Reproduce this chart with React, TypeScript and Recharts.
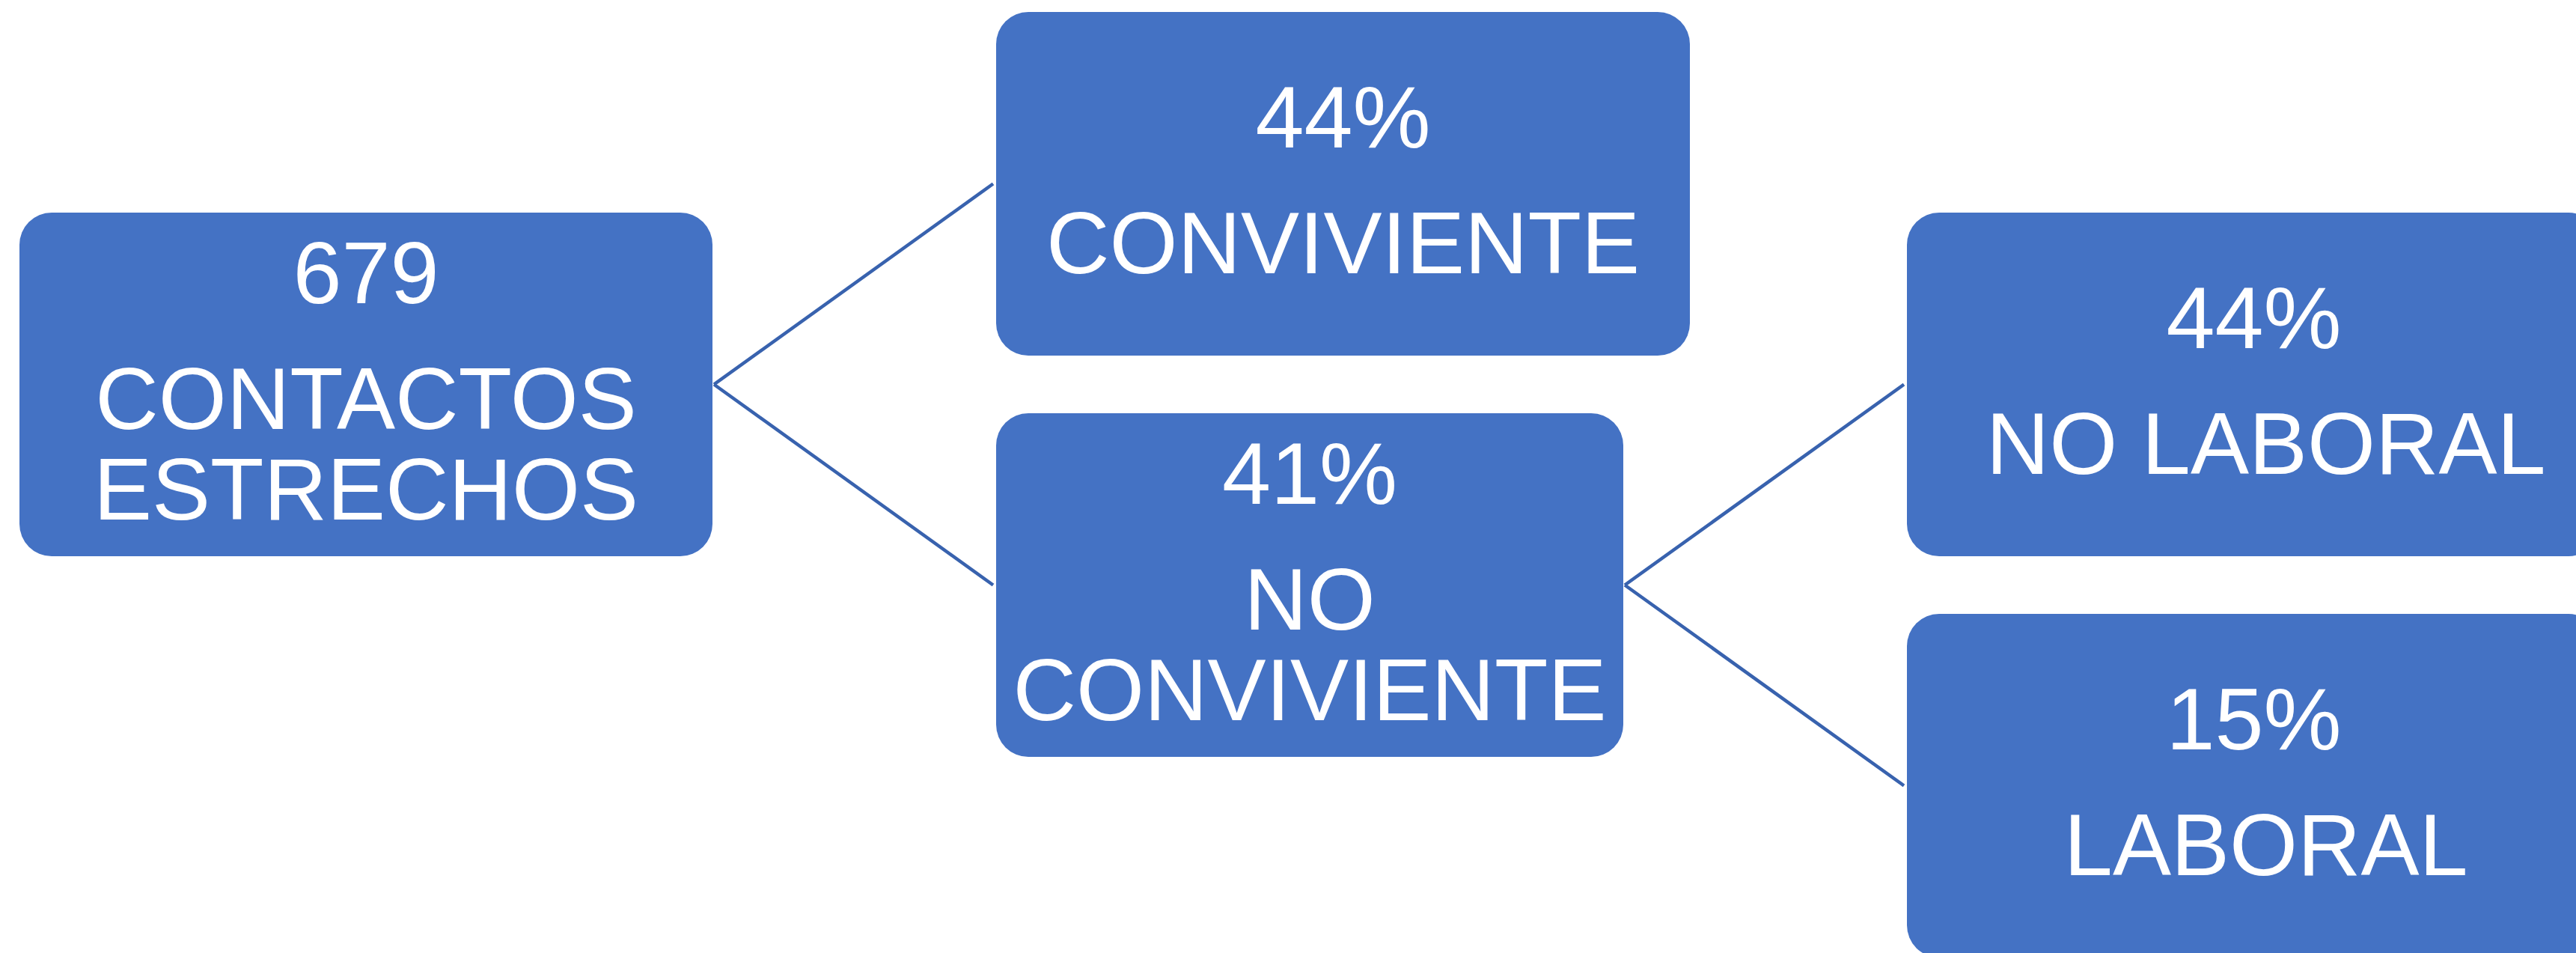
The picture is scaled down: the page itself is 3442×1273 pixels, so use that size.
import React from "react";
import { ScatterChart, Scatter, XAxis, YAxis, ReferenceLine } from "recharts";

// ---- data ----
const nodeValues = ["679", "44%", "41%", "44%", "15%"];
const nodeNameLines = [
  ["CONTACTOS", "ESTRECHOS"],
  ["CONVIVIENTE"],
  ["NO", "CONVIVIENTE"],
  [" NO LABORAL"],
  [" LABORAL"],
];
const nodeParents = [-1, 0, 0, 2, 2];
const nodeRows = [1, 0, 2, 1, 3];

// ---- style / layout ----
const W = 3442;
const H = 1273;
const BOX_FILL = "#4472C4";
const LINE_COLOR = "#3862AE";
const boxWidths = [926, 927, 838, 927, 927];
const BOX_H = 459;
const FIRST_LEFT = 26;
const COL_GAP = 379;
const FONT_SIZE = 117;
const CAP_H = 84;
const VALUE_GAP = 168;
const LINE_H = 121;
const ROW0_PX = 245.5;
const ROW_STEP = 268;

// build layout table from the tree structure
const lefts: number[] = [];
nodeParents.forEach((p, i) => {
  lefts[i] = p < 0 ? FIRST_LEFT : lefts[p] + boxWidths[p] + COL_GAP;
});
const nodes = nodeValues.map((v, i) => ({
  x: lefts[i] + boxWidths[i] / 2,
  y: nodeRows[i],
  value: v,
  lines: nodeNameLines[i],
  w: boxWidths[i],
}));
const links = nodeParents
  .map((p, i) => ({ p, i }))
  .filter((d) => d.p >= 0)
  .map(({ p, i }) => ({
    x1: lefts[p] + boxWidths[p] + 2,
    y1: nodeRows[p],
    x2: lefts[i] - 4,
    y2: nodeRows[i],
  }));

const yMin = -ROW0_PX / ROW_STEP;
const yMax = (H - ROW0_PX) / ROW_STEP;

const NodeShape = (props: any) => {
  const { cx, cy, payload } = props;
  const w = payload.w;
  const nLines = payload.lines.length;
  const span = CAP_H + VALUE_GAP + LINE_H * (nLines - 1);
  const first = cy - 6.5 - span / 2 + CAP_H;
  const textProps = {
    x: cx,
    textAnchor: "middle" as const,
    fill: "#FFFFFF",
    fontFamily: "Arial, 'Liberation Sans', sans-serif",
    fontSize: FONT_SIZE,
    xmlSpace: "preserve",
    style: { whiteSpace: "pre" as const },
  };
  return (
    <g>
      <rect
        x={cx - w / 2}
        y={cy - BOX_H / 2}
        width={w}
        height={BOX_H}
        rx={43}
        ry={43}
        fill={BOX_FILL}
      />
      <text {...textProps} y={first}>
        {payload.value}
      </text>
      {payload.lines.map((l: string, k: number) => (
        <text key={k} {...textProps} y={first + VALUE_GAP + LINE_H * k}>
          {l}
        </text>
      ))}
    </g>
  );
};

export default function App() {
  return (
    <div style={{ position: "absolute", left: 0, top: 0, width: W, height: H, background: "#fff" }}>
      <ScatterChart width={W} height={H} margin={{ top: 0, right: 0, bottom: 0, left: 0 }}>
        <XAxis type="number" dataKey="x" domain={[0, W]} hide allowDataOverflow />
        <YAxis type="number" dataKey="y" domain={[yMin, yMax]} reversed hide allowDataOverflow />
        {links.map((l, k) => (
          <ReferenceLine
            key={k}
            segment={[
              { x: l.x1, y: l.y1 },
              { x: l.x2, y: l.y2 },
            ]}
            stroke={LINE_COLOR}
            strokeWidth={4.5}
            ifOverflow="visible"
          />
        ))}
        <Scatter data={nodes} shape={NodeShape} isAnimationActive={false} />
      </ScatterChart>
    </div>
  );
}
